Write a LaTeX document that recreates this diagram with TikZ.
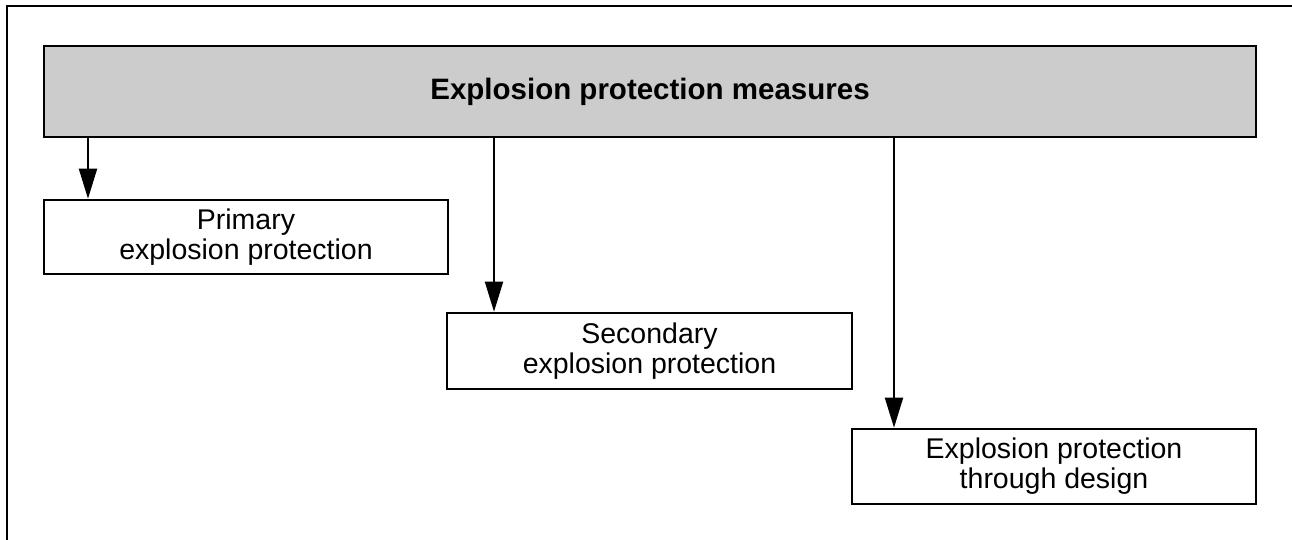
\documentclass[tikz,border=0pt]{standalone}
\usepackage{fontspec}
\setmainfont{Liberation Sans}
\usetikzlibrary{arrows.meta}
\definecolor{boxgray}{HTML}{CCCCCC}
\begin{document}
\begin{tikzpicture}[x=1pt,y=-1pt,
  box/.style={draw=black, line width=2.6pt, rectangle, inner sep=0pt, align=center,
    font=\fontsize{28.5}{30}\selectfont},
  arr/.style={line width=2pt, -{Triangle[length=30pt,width=18pt]}}]
\useasboundingbox (0,0) rectangle (1292,540);
\coordinate (f1) at (6.8,540);
\coordinate (f2) at (6.8,6);
\coordinate (f3) at (1292,6);
\draw[line width=2.6pt] (f1) -- (f2) -- (f3);
\node[box, fill=boxgray, minimum width=1212pt, minimum height=91pt,
  font=\bfseries\fontsize{29.5}{31}\selectfont] (main) at (650,91.5) {Explosion protection measures};
\node[box, minimum width=404pt, minimum height=74pt] (prim) at (246,237) {Primary\\explosion protection};
\node[box, minimum width=405pt, minimum height=76pt] (sec) at (649.5,351) {Secondary\\explosion protection};
\node[box, minimum width=404pt, minimum height=75pt] (des) at (1054,466.5) {Explosion protection\\through design};
\coordinate (a1) at (88,0);
\coordinate (a2) at (494,0);
\coordinate (a3) at (894,0);
\draw[arr] (main.south -| a1) -- (prim.north -| a1);
\draw[arr] (main.south -| a2) -- (sec.north -| a2);
\draw[arr] (main.south -| a3) -- (des.north -| a3);
\end{tikzpicture}
\end{document}
